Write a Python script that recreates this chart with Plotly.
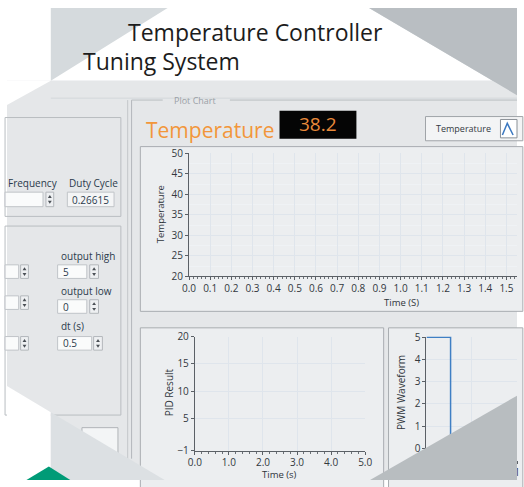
import plotly.graph_objects as go

W, H = 524, 487

# ---------------- data ----------------
temp_time = []            # temperature chart is empty in the screenshot
temp_values = []
pid_time = []             # PID result chart is empty
pid_values = []
pwm_time = [0.0, 0.26615, 0.26615, 1.0]
pwm_values = [5, 5, 0, 0]

temp_xticks = [0.0, 0.1, 0.2, 0.3, 0.4, 0.5, 0.6, 0.7, 0.8, 0.9, 1.0, 1.1, 1.2, 1.3, 1.4, 1.5]
temp_yticks = [20, 25, 30, 35, 40, 45, 50]
pid_xticks = [0.0, 1.0, 2.0, 3.0, 4.0, 5.0]
pid_yticks = [-1, 5, 10, 15, 20]
pwm_yticks = [0, 1, 2, 3, 4, 5]

temperature_reading = "38.2"
duty_cycle = "0.26615"
output_high = "5"
output_low = "0"
dt_seconds = "0.5"

# ---------------- helpers ----------------
def X(p):
    return p / W

def Y(p):
    return 1 - p / H

shapes = []
annotations = []

def rect(x0, y0, x1, y1, fill=None, line=None, lw=1, layer="below"):
    shapes.append(dict(type="rect", xref="paper", yref="paper",
                       x0=X(x0), x1=X(x1), y0=Y(y1), y1=Y(y0),
                       fillcolor=fill if fill else "rgba(0,0,0,0)",
                       line=dict(color=line if line else "rgba(0,0,0,0)", width=lw if line else 0),
                       layer=layer))

def poly(pts, fill, layer="below", line=None):
    d = "M " + " L ".join(f"{X(a):.5f},{Y(b):.5f}" for a, b in pts) + " Z"
    shapes.append(dict(type="path", xref="paper", yref="paper", path=d,
                       fillcolor=fill,
                       line=dict(color=line if line else "rgba(0,0,0,0)", width=1 if line else 0),
                       layer=layer))

def seg(x0, y0, x1, y1, color, w=1, layer="below"):
    shapes.append(dict(type="line", xref="paper", yref="paper",
                       x0=X(x0), x1=X(x1), y0=Y(y0), y1=Y(y1),
                       line=dict(color=color, width=w), layer=layer))

def text(x, y, s, size=10, color="#2f3a46", xanchor="center", angle=0, family="Open Sans"):
    annotations.append(dict(xref="paper", yref="paper", x=X(x), y=Y(y), text=s,
                            showarrow=False, xanchor=xanchor, yanchor="middle",
                            textangle=angle, font=dict(size=size, color=color, family=family)))

def spinner(x0, y0, x1, y1):
    rect(x0, y0, x1, y1, fill="#eef0f2", line="#b3b7bb")
    cx = (x0 + x1) / 2
    my = (y0 + y1) / 2
    poly([(cx - 2, my - 1.5), (cx + 2, my - 1.5), (cx, my - 4.5)], "#4a4f55")
    poly([(cx - 2, my + 1.5), (cx + 2, my + 1.5), (cx, my + 4.5)], "#4a4f55")

# ---------------- background decoration ----------------
rect(45, 0, 524, 487, fill="#d5dadd")
poly([(165, 0), (372, 0), (499, 75), (45, 75)], "#ffffff")
rect(0, 75, 524, 487, fill="#e5e7e9")
seg(45, 93, 524, 93, "#d3d7da", 1)
poly([(0, 75), (45, 75), (0, 100)], "#ffffff")
poly([(372, 0), (524, 0), (524, 90)], "#b9bec2")

# left control boxes
rect(-2, 113, 117, 215, line="#b9bdc1")
rect(-2, 225, 117, 420, line="#b9bdc1")
seg(124, 95, 124, 465, "#c3c7ca", 1)
seg(128, 95, 128, 465, "#b3b7bb", 1)

# frequency / duty cycle
rect(-2, 190, 37, 205, fill="#fafbfb", line="#c0c4c8")
spinner(40, 190, 48, 205)
rect(62, 190, 110, 205, fill="#f4f5f6", line="#c0c4c8")

# PID parameter controls (cut off on the left)
for (a, b) in [(265, 279), (297, 311), (339, 353)]:
    rect(-2, a, 12, b, fill="#fafbfb", line="#c0c4c8")
    spinner(14, a, 22, b)
rect(52, 265, 82, 279, fill="#fafbfb", line="#c0c4c8")
spinner(85, 265, 94, 279)
rect(52, 301, 82, 315, fill="#fafbfb", line="#c0c4c8")
spinner(85, 301, 94, 315)
rect(52, 339, 87, 353, fill="#fafbfb", line="#c0c4c8")
spinner(89, 339, 98, 353)
rect(77, 433, 114, 475, fill="#f3f5f6", line="#b0b4b8")

# Plot Chart group frame
seg(128, 95, 160, 95, "#b9bdc1", 1)
seg(229, 95, 524, 95, "#b9bdc1", 1)

# chart panels
rect(137, 143, 530, 313, fill="#eceef0", line="#a9adb1")
rect(137, 330, 387, 495, fill="#eceef0", line="#a9adb1")
rect(392, 330, 530, 495, fill="#eceef0", line="#a9adb1")

# numeric indicator and legend box
rect(280, 106, 359, 135, fill="#050505")
rect(430, 112, 530, 137, fill="#f3f4f5", line="#a0a4a8")
rect(507, 115, 524, 134, fill="#ffffff", line="#8a9096")
shapes.append(dict(type="path", xref="paper", yref="paper",
                   path=f"M {X(509):.5f},{Y(131):.5f} L {X(514):.5f},{Y(119):.5f} L {X(520):.5f},{Y(131):.5f}",
                   line=dict(color="#3b78c0", width=1.5), layer="below"))

# lower-left cut-outs
poly([(0, 390), (45, 417), (45, 487), (0, 487)], "#ffffff")
poly([(45, 417), (162, 487), (45, 487)], "#dce0e3")
poly([(20, 487), (43, 473), (65, 487)], "#009b77")

# lower-right grey triangle covering the PWM chart
poly([(524, 400), (373, 487), (524, 487)], "#b8bdc0", layer="above")

# ---------------- texts ----------------
text(122, 25, "Temperature Controller", 23, "#1c1c1c", "left")
text(76, 55, "Tuning System", 23, "#1c1c1c", "left")
text(193, 95, "Plot Chart", 9, "#9aa0a6")
text(141, 126, "Temperature", 21, "#f2963a", "left")
text(320, 120, temperature_reading, 19, "#e8893a")
text(469, 124, "Temperature", 9, "#333a42")

text(54, 181, "Frequency", 10, "#2b3a4c", "right")
text(62, 181, "Duty Cycle", 10, "#2b3a4c", "left")
text(86, 198, duty_cycle, 10, "#2b3a4c")
text(53, 256, "output high", 10, "#2b3a4c", "left")
text(55, 272, output_high, 10, "#2b3a4c", "left")
text(53, 292, "output low", 10, "#2b3a4c", "left")
text(55, 308, output_low, 10, "#2b3a4c", "left")
text(53, 328, "dt (s)", 10, "#2b3a4c", "left")
text(55, 346, dt_seconds, 10, "#2b3a4c", "left")

text(158, 213, "Temperature", 9.5, "#2f353b", angle=-90)
text(405, 304, "Time (S)", 9.5, "#2f353b")
text(166, 397, "PID Result", 10, "#2f353b", angle=-90)
text(280, 481, "Time (s)", 9.5, "#2f353b")
text(405, 397, "PWM Waveform", 10, "#2f353b", angle=-90)

# ---------------- traces ----------------
fig = go.Figure()
fig.add_trace(go.Scatter(x=temp_time, y=temp_values, mode="lines", name="Temperature",
                         line=dict(color="#3b78c0", width=1.5), xaxis="x", yaxis="y"))
fig.add_trace(go.Scatter(x=pid_time, y=pid_values, mode="lines", name="PID Result",
                         line=dict(color="#3b78c0", width=1.5), xaxis="x2", yaxis="y2"))
fig.add_trace(go.Scatter(x=pwm_time, y=pwm_values, mode="lines", name="PWM Waveform",
                         line=dict(color="#3f7fc4", width=1.5), xaxis="x3", yaxis="y3"))

axis_common = dict(showline=True, linecolor="#5b6066", linewidth=1, ticks="outside",
                   ticklen=3, tickcolor="#5b6066", zeroline=False, fixedrange=True,
                   gridcolor="#dfe5ec", gridwidth=1,
                   tickfont=dict(size=10, color="#33383e", family="Open Sans"))

fig.update_layout(
    width=W, height=H, margin=dict(l=0, r=0, t=0, b=0),
    paper_bgcolor="#ffffff", plot_bgcolor="#ffffff",
    showlegend=False, hovermode=False,
    shapes=shapes, annotations=annotations,
    xaxis=dict(domain=[X(187), 1.0], range=[0, 1.55], tickvals=temp_xticks,
               ticktext=[f"{v:.1f}" for v in temp_xticks], anchor="y",
               minor=dict(dtick=0.02, tick0=0, ticks="outside", ticklen=2, tickcolor="#6b7076", showgrid=False),
               **axis_common),
    yaxis=dict(domain=[Y(277), Y(150)], range=[20, 50], tickvals=temp_yticks, anchor="x",
               minor=dict(dtick=2.5, showgrid=True, gridcolor="#eff2f5"),
               **axis_common),
    xaxis2=dict(domain=[X(193), X(368)], range=[0, 5], tickvals=pid_xticks,
                ticktext=[f"{v:.1f}" for v in pid_xticks], anchor="y2", ticklabelstandoff=-1,
                minor=dict(dtick=0.2, tick0=0, ticks="outside", ticklen=2, tickcolor="#6b7076", showgrid=False),
                **axis_common),
    yaxis2=dict(domain=[Y(457), Y(339)], range=[-1, 20], tickvals=pid_yticks, anchor="x2",
                **axis_common),
    xaxis3=dict(domain=[X(431), 1.0], range=[0, 1], dtick=0.5, anchor="y3",
                **axis_common),
    yaxis3=dict(domain=[Y(466), Y(339)], range=[-0.5, 5.03], tickvals=pwm_yticks, anchor="x3",
                **axis_common),
)

page_fix = (
    "document.documentElement.style.margin='0';"
    "document.body.style.margin='0';"
    "document.body.style.overflow='hidden';"
)

fig.write_html("out.html", config={"displayModeBar": False}, post_script=page_fix)
